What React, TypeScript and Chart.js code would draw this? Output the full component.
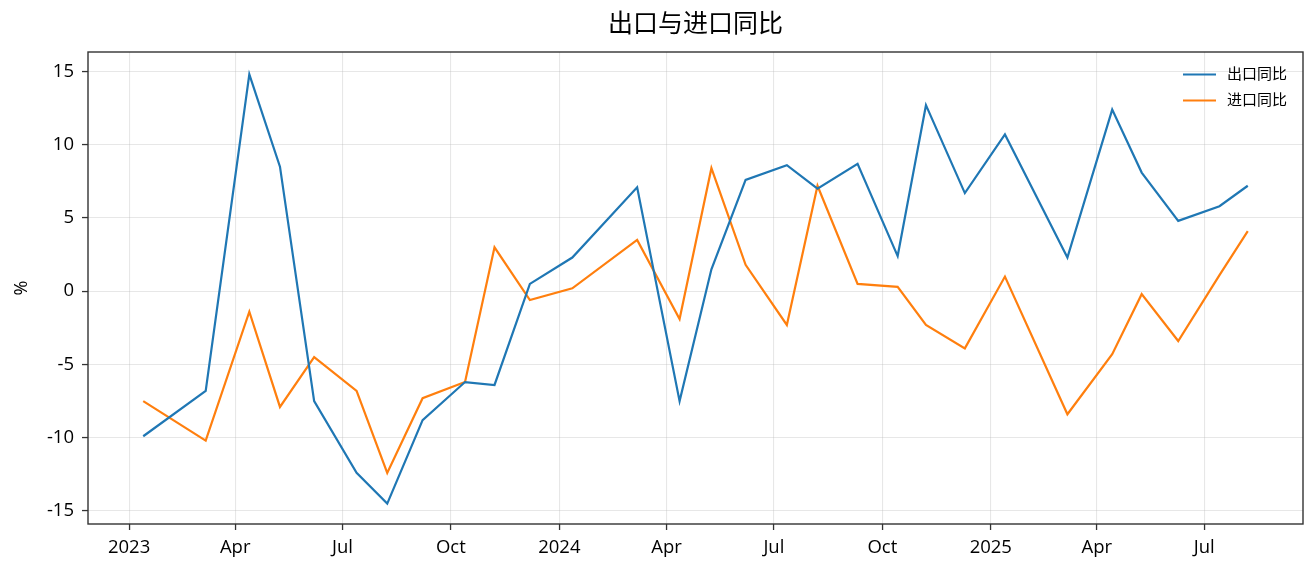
import React, { useEffect, useRef } from "react";
import { Chart, registerables } from "chart.js";

Chart.register(...registerables);

const dates = [
  "2023-01-13", "2023-03-07", "2023-04-13", "2023-05-09", "2023-06-07", "2023-07-13",
  "2023-08-08", "2023-09-07", "2023-10-13", "2023-11-07", "2023-12-07", "2024-01-12",
  "2024-03-07", "2024-04-12", "2024-05-09", "2024-06-07", "2024-07-12", "2024-08-07",
  "2024-09-10", "2024-10-14", "2024-11-07", "2024-12-10", "2025-01-13", "2025-03-07",
  "2025-04-14", "2025-05-09", "2025-06-09", "2025-07-14", "2025-08-07",
];
const exportsYoY = [
  -9.9, -6.8, 14.8, 8.5, -7.5, -12.4, -14.5, -8.8, -6.2, -6.4, 0.5, 2.3,
  7.1, -7.5, 1.5, 7.6, 8.6, 7.0, 8.7, 2.4, 12.7, 6.7, 10.7, 2.3,
  12.4, 8.1, 4.8, 5.8, 7.2,
];
const importsYoY = [
  -7.5, -10.2, -1.4, -7.9, -4.5, -6.8, -12.4, -7.3, -6.2, 3.0, -0.6, 0.2,
  3.5, -1.9, 8.4, 1.8, -2.3, 7.2, 0.5, 0.3, -2.3, -3.9, 1.0, -8.4,
  -4.3, -0.2, -3.4, 1.1, 4.1,
];
const xTickDates = [
  "2023-01-01", "2023-04-01", "2023-07-01", "2023-10-01", "2024-01-01", "2024-04-01",
  "2024-07-01", "2024-10-01", "2025-01-01", "2025-04-01", "2025-07-01",
];
const xTickLabels = ["2023", "Apr", "Jul", "Oct", "2024", "Apr", "Jul", "Oct", "2025", "Apr", "Jul"];
const yTicks = [-15, -10, -5, 0, 5, 10, 15];
const yLimits = [-15.89, 16.33];
const seriesNames = ["出口同比", "进口同比"];
const seriesColors = ["#1f77b4", "#ff7f0e"];
const titleText = "出口与进口同比";
const yLabel = "%";

const FONT = '"Open Sans", "Noto Sans CJK SC", sans-serif';
const day = (s: string) => new Date(s).getTime() / 86400000;

export default function App() {
  const ref = useRef<HTMLCanvasElement | null>(null);
  useEffect(() => {
    if (!ref.current) return;
    const xs = dates.map(day);
    const xMin = Math.min(...xs), xMax = Math.max(...xs);
    const xPad = (xMax - xMin) * 0.05;

    const decor = {
      id: "decor",
      afterDraw(chart: any) {
        const { ctx, chartArea: a } = chart;
        ctx.save();
        ctx.strokeStyle = "#333";
        ctx.lineWidth = 1.4;
        ctx.strokeRect(a.left, a.top, a.right - a.left, a.bottom - a.top);
        // title
        ctx.fillStyle = "#000";
        ctx.font = `25px ${FONT}`;
        ctx.textAlign = "center";
        ctx.textBaseline = "middle";
        ctx.fillText(titleText, (a.left + a.right) / 2, 25);
        // y label
        ctx.font = `18px ${FONT}`;
        ctx.translate(22, (a.top + a.bottom) / 2);
        ctx.rotate(-Math.PI / 2);
        ctx.fillText(yLabel, 0, 0);
        ctx.restore();
        // legend
        ctx.save();
        ctx.font = `15px ${FONT}`;
        ctx.textAlign = "left";
        ctx.textBaseline = "middle";
        seriesNames.forEach((n, i) => {
          const y = 74.5 + i * 26;
          ctx.strokeStyle = seriesColors[i];
          ctx.lineWidth = 2.2;
          ctx.beginPath();
          ctx.moveTo(1183, y);
          ctx.lineTo(1216, y);
          ctx.stroke();
          ctx.fillStyle = "#000";
          ctx.fillText(n, 1227, y);
        });
        ctx.restore();
      },
    };

    const gridOpts = {
      color: "rgba(176,176,176,0.3)",
      lineWidth: 1.1,
      tickColor: "#333",
      tickLength: 6,
      tickWidth: 1.3,
    };

    const chart = new Chart(ref.current, {
      type: "line",
      data: {
        datasets: [
          {
            label: seriesNames[0],
            data: xs.map((x, i) => ({ x, y: exportsYoY[i] })),
            borderColor: seriesColors[0],
            backgroundColor: seriesColors[0],
            borderWidth: 2.2,
            pointRadius: 0,
            tension: 0,
          },
          {
            label: seriesNames[1],
            data: xs.map((x, i) => ({ x, y: importsYoY[i] })),
            borderColor: seriesColors[1],
            backgroundColor: seriesColors[1],
            borderWidth: 2.2,
            pointRadius: 0,
            tension: 0,
          },
        ],
      },
      options: {
        responsive: false,
        animation: false,
        layout: { padding: { top: 52, right: 13, left: 0, bottom: 0 } },
        plugins: { legend: { display: false }, title: { display: false }, tooltip: { enabled: false } },
        scales: {
          x: {
            type: "linear",
            min: xMin - xPad,
            max: xMax + xPad,
            afterBuildTicks: (s: any) => {
              s.ticks = xTickDates.map((d) => ({ value: day(d) }));
            },
            afterFit: (s: any) => {
              s.height = 50;
            },
            border: { display: false },
            grid: gridOpts,
            ticks: {
              autoSkip: false,
              maxRotation: 0,
              padding: 7,
              color: "#000",
              font: { family: FONT, size: 18.5 },
              callback: (_v: any, i: number) => xTickLabels[i],
            },
          },
          y: {
            type: "linear",
            min: yLimits[0],
            max: yLimits[1],
            afterBuildTicks: (s: any) => {
              s.ticks = yTicks.map((v) => ({ value: v }));
            },
            afterFit: (s: any) => {
              s.width = 88;
            },
            border: { display: false },
            grid: gridOpts,
            ticks: {
              padding: 8,
              color: "#000",
              font: { family: FONT, size: 18.5 },
              callback: (v: any) => String(v),
            },
          },
        },
      },
      plugins: [decor],
    });
    return () => chart.destroy();
  }, []);
  return (
    <div style={{ position: "absolute", left: 0, top: 0, width: 1316, height: 574, background: "#fff" }}>
      <canvas ref={ref} width={1316} height={574} />
    </div>
  );
}
